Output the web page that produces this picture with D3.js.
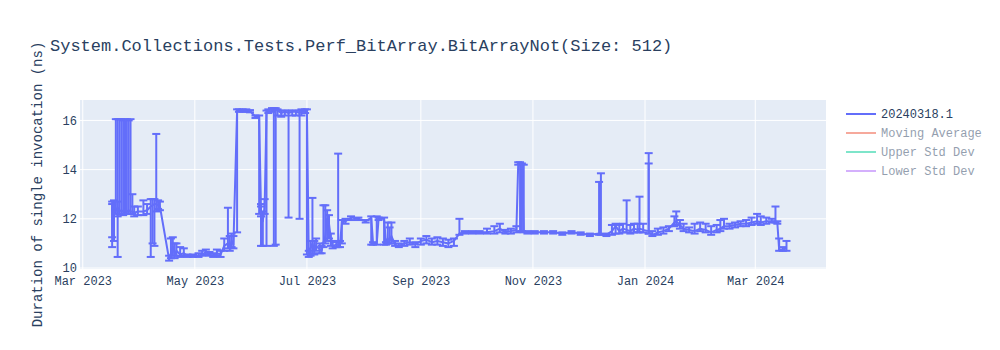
<!DOCTYPE html>
<html>
<head>
<meta charset="utf-8">
<script src="https://cdn.jsdelivr.net/npm/d3@7"></script>
<style>
  body { margin: 0; background: #fff; }
  svg text { font-family: "Courier New", "Liberation Mono", monospace; }
</style>
</head>
<body>
<div id="chart"></div>
<script>
const chartTitle = 'System.Collections.Tests.Perf_BitArray.BitArrayNot(Size: 512)';
const yAxisTitle = 'Duration of single invocation (ns)';
const legendNames = ['20240318.1', 'Moving Average', 'Upper Std Dev', 'Lower Std Dev'];
const yTickValues = [10, 12, 14, 16];

const dates = [
    '2023-03-17', '2023-03-17', '2023-03-18', '2023-03-19', '2023-03-20', '2023-03-20', '2023-03-21', '2023-03-22',
    '2023-03-23', '2023-03-24', '2023-03-25', '2023-03-26', '2023-03-27', '2023-03-28', '2023-03-29', '2023-03-31',
    '2023-04-03', '2023-04-05', '2023-04-07', '2023-04-08', '2023-04-09', '2023-04-10', '2023-04-11', '2023-04-12',
    '2023-04-17', '2023-04-18', '2023-04-19', '2023-04-20', '2023-04-21', '2023-04-23', '2023-04-25', '2023-04-27',
    '2023-04-30', '2023-05-03', '2023-05-05', '2023-05-07', '2023-05-09', '2023-05-11', '2023-05-13', '2023-05-15',
    '2023-05-17', '2023-05-19', '2023-05-20', '2023-05-21', '2023-05-22', '2023-05-24', '2023-05-25', '2023-05-27',
    '2023-05-29', '2023-05-31', '2023-06-03', '2023-06-05', '2023-06-06', '2023-06-06', '2023-06-07', '2023-06-08',
    '2023-06-09', '2023-06-10', '2023-06-12', '2023-06-13', '2023-06-14', '2023-06-15', '2023-06-17', '2023-06-19',
    '2023-06-21', '2023-06-23', '2023-06-25', '2023-06-27', '2023-06-28', '2023-06-30', '2023-07-01', '2023-07-02',
    '2023-07-03', '2023-07-04', '2023-07-05', '2023-07-06', '2023-07-08', '2023-07-09', '2023-07-10', '2023-07-11',
    '2023-07-12', '2023-07-13', '2023-07-14', '2023-07-15', '2023-07-17', '2023-07-18', '2023-07-19', '2023-07-20',
    '2023-07-22', '2023-07-25', '2023-07-29', '2023-08-02', '2023-08-05', '2023-08-06', '2023-08-08', '2023-08-09',
    '2023-08-12', '2023-08-13', '2023-08-14', '2023-08-15', '2023-08-16', '2023-08-18', '2023-08-20', '2023-08-23',
    '2023-08-26', '2023-08-29', '2023-09-01', '2023-09-04', '2023-09-07', '2023-09-10', '2023-09-13', '2023-09-16',
    '2023-09-19', '2023-09-22', '2023-09-25', '2023-09-29', '2023-10-03', '2023-10-07', '2023-10-11', '2023-10-14',
    '2023-10-17', '2023-10-20', '2023-10-23', '2023-10-24', '2023-10-25', '2023-10-26', '2023-10-27', '2023-10-29',
    '2023-11-02', '2023-11-07', '2023-11-12', '2023-11-17', '2023-11-22', '2023-11-27', '2023-12-02', '2023-12-07',
    '2023-12-08', '2023-12-11', '2023-12-14', '2023-12-16', '2023-12-18', '2023-12-20', '2023-12-22', '2023-12-24',
    '2023-12-26', '2023-12-28', '2023-12-29', '2023-12-31', '2024-01-03', '2024-01-03', '2024-01-05', '2024-01-08',
    '2024-01-11', '2024-01-14', '2024-01-17', '2024-01-18', '2024-01-20', '2024-01-22', '2024-01-25', '2024-01-28',
    '2024-01-31', '2024-02-03', '2024-02-06', '2024-02-09', '2024-02-11', '2024-02-13', '2024-02-16', '2024-02-19',
    '2024-02-22', '2024-02-25', '2024-02-28', '2024-03-02', '2024-03-04', '2024-03-07', '2024-03-10', '2024-03-12',
    '2024-03-13', '2024-03-14', '2024-03-16', '2024-03-18'
];

const durations = [
    12.45, 12.35, 12.55, 12.40, 12.30, 12.45, 12.30, 12.35,
    12.30, 12.40, 12.30, 12.35, 12.30, 12.30, 12.25, 12.30,
    12.30, 12.35, 12.50, 12.55, 12.60, 12.60, 12.55, 12.50,
    10.35, 10.60, 10.90, 10.55, 10.70, 10.55, 10.60, 10.50,
    10.50, 10.50, 10.55, 10.65, 10.55, 10.50, 10.60, 10.55,
    10.90, 11.00, 10.80, 11.10, 10.95, 16.40, 16.40, 16.40,
    16.40, 16.38, 16.15, 16.15, 12.40, 12.20, 11.90, 12.50,
    16.35, 16.40, 16.45, 16.40, 16.45, 16.40, 16.30, 16.35,
    16.30, 16.35, 16.35, 16.30, 16.35, 16.40, 16.40, 10.55,
    10.80, 11.00, 10.70, 10.90, 10.75, 10.70, 11.05, 11.30,
    12.00, 11.80, 11.20, 10.90, 10.95, 10.95, 10.95, 11.85,
    11.90, 12.05, 12.00, 11.90, 12.05, 11.00, 11.00, 12.00,
    12.00, 11.00, 11.20, 11.10, 11.30, 10.95, 10.90, 11.00,
    11.05, 10.95, 11.10, 11.15, 11.05, 11.10, 11.05, 11.00,
    11.10, 11.40, 11.45, 11.45, 11.45, 11.45, 11.50, 11.60,
    11.45, 11.50, 11.55, 14.25, 14.25, 14.20, 11.50, 11.45,
    11.45, 11.45, 11.45, 11.40, 11.45, 11.40, 11.35, 11.40,
    11.40, 11.35, 11.50, 11.70, 11.50, 11.60, 11.55, 11.50,
    11.60, 11.55, 11.60, 11.55, 11.50, 11.45, 11.35, 11.45,
    11.50, 11.60, 11.85, 11.90, 11.75, 11.60, 11.55, 11.50,
    11.60, 11.55, 11.45, 11.55, 11.60, 11.70, 11.70, 11.75,
    11.80, 11.80, 11.85, 11.90, 11.85, 11.90, 11.90, 11.90,
    11.85, 10.75, 10.75, 10.80
];

// absolute ends of the error bars
const errorTop = [
    12.70, 12.60, 12.75, 16.05, 16.05, 12.70, 16.05, 16.05,
    16.00, 16.05, 16.05, 16.00, 16.05, 13.00, 12.50, 12.50,
    12.75, 12.60, 12.80, 12.80, 12.80, 15.45, 12.75, 12.70,
    10.50, 11.20, 11.25, 11.00, 11.00, 10.85, 10.80, 10.55,
    10.55, 10.60, 10.70, 10.75, 10.65, 10.60, 10.75, 10.70,
    11.20, 12.45, 11.30, 11.40, 11.30, 16.45, 16.45, 16.45,
    16.45, 16.42, 16.20, 16.20, 12.60, 12.50, 12.30, 12.80,
    16.40, 16.45, 16.50, 16.50, 16.50, 16.45, 16.40, 16.40,
    16.40, 16.40, 16.40, 16.40, 16.45, 16.45, 16.45, 10.70,
    11.10, 12.85, 11.10, 11.20, 11.00, 10.90, 12.55, 12.55,
    12.35, 12.15, 11.40, 11.10, 11.05, 14.65, 11.10, 11.95,
    12.00, 12.10, 12.05, 11.95, 12.10, 11.05, 12.10, 12.05,
    12.05, 11.05, 11.85, 11.65, 11.85, 11.10, 11.00, 11.10,
    11.20, 11.05, 11.20, 11.30, 11.20, 11.25, 11.20, 11.15,
    11.20, 12.00, 11.50, 11.50, 11.50, 11.60, 11.70, 11.80,
    11.55, 11.60, 11.70, 14.30, 14.30, 14.25, 14.20, 11.50,
    11.50, 11.50, 11.50, 11.45, 11.50, 11.45, 11.40, 13.50,
    13.85, 11.40, 11.75, 11.80, 11.75, 11.80, 12.75, 11.75,
    11.80, 11.80, 12.90, 11.80, 14.25, 14.67, 11.50, 11.60,
    11.65, 11.70, 12.10, 12.30, 11.95, 11.80, 11.65, 11.80,
    11.85, 11.80, 11.70, 11.75, 11.95, 12.00, 11.80, 11.85,
    11.90, 11.95, 12.05, 12.20, 12.10, 12.05, 12.00, 12.50,
    11.90, 11.20, 10.85, 11.10
];

const errorBottom = [
    11.25, 10.85, 11.10, 12.20, 12.10, 10.45, 12.20, 12.20,
    12.15, 12.20, 12.20, 12.20, 12.20, 12.20, 12.10, 12.15,
    12.15, 12.20, 10.45, 11.00, 10.90, 12.30, 12.40, 12.35,
    10.30, 10.40, 10.50, 10.40, 10.50, 10.45, 10.50, 10.45,
    10.45, 10.45, 10.50, 10.55, 10.50, 10.45, 10.50, 10.45,
    10.70, 10.80, 10.70, 10.85, 10.80, 11.45, 16.35, 16.35,
    16.35, 16.33, 16.10, 12.20, 12.10, 10.90, 10.90, 12.20,
    10.90, 16.30, 16.35, 10.90, 10.95, 16.20, 16.15, 16.20,
    12.05, 16.20, 16.20, 12.00, 16.20, 16.30, 10.55, 10.45,
    10.50, 10.60, 10.55, 10.70, 10.60, 10.60, 10.85, 11.00,
    11.10, 11.20, 10.90, 10.80, 10.85, 10.85, 10.85, 11.00,
    11.80, 11.95, 11.95, 11.85, 10.95, 10.95, 10.95, 11.95,
    10.95, 10.95, 11.00, 11.00, 11.00, 10.90, 10.85, 10.90,
    10.95, 10.85, 10.95, 11.00, 10.95, 10.95, 10.90, 10.85,
    10.90, 11.35, 11.40, 11.40, 11.40, 11.40, 11.40, 11.45,
    11.40, 11.40, 11.45, 14.20, 11.50, 11.50, 11.45, 11.40,
    11.40, 11.40, 11.40, 11.35, 11.40, 11.35, 11.30, 11.35,
    11.35, 11.30, 11.35, 11.40, 11.40, 11.45, 11.45, 11.40,
    11.45, 11.45, 11.45, 11.45, 11.40, 11.40, 11.30, 11.35,
    11.40, 11.50, 11.70, 11.75, 11.60, 11.50, 11.45, 11.40,
    11.50, 11.45, 11.35, 11.45, 11.50, 11.60, 11.60, 11.65,
    11.70, 11.70, 11.75, 11.80, 11.75, 11.80, 11.85, 11.85,
    11.80, 10.70, 10.70, 10.70
];

const traceColors = ['#636efa', '#EF553B', '#00cc96', '#ab63fa'];

function drawChart() {
    const width = 1000;
    const height = 350;
    const plot = { left: 80, top: 100, width: 746, height: 169 };
    const textColor = '#2a3f5f';

    const parseDate = d3.timeParse('%Y-%m-%d');
    const points = dates.map((d, i) => ({
        date: parseDate(d),
        value: durations[i],
        top: errorTop[i],
        bottom: errorBottom[i]
    }));

    const svg = d3.select('#chart').append('svg')
        .attr('width', width)
        .attr('height', height);

    const x = d3.scaleTime()
        .domain([new Date(2023, 1, 27, 12), new Date(2024, 3, 8, 12)])
        .range([0, plot.width]);

    const y = d3.scaleLinear()
        .domain([9.96, 16.83])
        .range([plot.height, 0]);

    const chart = svg.append('g')
        .attr('transform', 'translate(' + plot.left + ', ' + plot.top + ')');

    chart.append('rect')
        .attr('width', plot.width)
        .attr('height', plot.height)
        .attr('fill', '#E5ECF6');

    const xTicks = x.ticks(d3.timeMonth.every(2));

    // grid
    chart.append('g')
        .selectAll('line')
        .data(xTicks)
        .enter()
        .append('line')
        .attr('x1', d => x(d))
        .attr('x2', d => x(d))
        .attr('y1', 0)
        .attr('y2', plot.height)
        .attr('stroke', '#fff')
        .attr('stroke-width', 1);

    chart.append('g')
        .selectAll('line')
        .data(yTickValues)
        .enter()
        .append('line')
        .attr('x1', 0)
        .attr('x2', plot.width)
        .attr('y1', d => y(d))
        .attr('y2', d => y(d))
        .attr('stroke', '#fff')
        .attr('stroke-width', 1);

    // axes
    const xAxis = d3.axisBottom(x)
        .tickValues(xTicks)
        .tickFormat(d3.timeFormat('%b %Y'))
        .tickSize(0)
        .tickPadding(7);
    const xAxisG = chart.append('g')
        .attr('transform', 'translate(0, ' + plot.height + ')')
        .call(xAxis);

    const yAxis = d3.axisLeft(y)
        .tickValues(yTickValues)
        .tickFormat(d3.format('d'))
        .tickSize(0)
        .tickPadding(3);
    const yAxisG = chart.append('g')
        .call(yAxis);

    [xAxisG, yAxisG].forEach(g => {
        g.select('.domain').remove();
        g.selectAll('text')
            .attr('fill', textColor)
            .style('font-size', '12px')
            .style('font-family', '"Courier New", "Liberation Mono", monospace');
    });

    svg.append('clipPath').attr('id', 'plot-clip')
        .append('rect')
        .attr('width', plot.width)
        .attr('height', plot.height);

    const marks = chart.append('g').attr('clip-path', 'url(#plot-clip)');

    // error bars
    const bars = marks.append('g')
        .attr('stroke', traceColors[0])
        .attr('stroke-width', 2)
        .selectAll('g')
        .data(points)
        .enter()
        .append('g');

    bars.append('line')
        .attr('x1', p => x(p.date))
        .attr('x2', p => x(p.date))
        .attr('y1', p => y(p.top))
        .attr('y2', p => y(p.bottom));

    bars.append('line')
        .attr('x1', p => x(p.date) - 4)
        .attr('x2', p => x(p.date) + 4)
        .attr('y1', p => y(p.top))
        .attr('y2', p => y(p.top));

    bars.append('line')
        .attr('x1', p => x(p.date) - 4)
        .attr('x2', p => x(p.date) + 4)
        .attr('y1', p => y(p.bottom))
        .attr('y2', p => y(p.bottom));

    const line = d3.line()
        .x(p => x(p.date))
        .y(p => y(p.value));

    marks.append('path')
        .datum(points)
        .attr('d', line)
        .attr('fill', 'none')
        .attr('stroke', traceColors[0])
        .attr('stroke-width', 2)
        .attr('stroke-linejoin', 'round');

    // title
    svg.append('text')
        .attr('x', 50)
        .attr('y', 51)
        .attr('fill', textColor)
        .style('font-size', '17px')
        .text(chartTitle);

    svg.append('text')
        .attr('transform', 'translate(42, ' + (plot.top + plot.height / 2) + ') rotate(-90)')
        .attr('text-anchor', 'middle')
        .attr('fill', textColor)
        .style('font-size', '14px')
        .text(yAxisTitle);

    // legend, only the first trace is shown
    const legend = svg.append('g')
        .selectAll('g')
        .data(legendNames)
        .enter()
        .append('g')
        .attr('transform', (d, i) => 'translate(846, ' + (114 + i * 19) + ')')
        .attr('opacity', (d, i) => i === 0 ? 1 : 0.5);

    legend.append('line')
        .attr('x1', 0)
        .attr('x2', 30)
        .attr('stroke', (d, i) => traceColors[i])
        .attr('stroke-width', 2);

    legend.append('text')
        .attr('x', 35)
        .attr('dy', '0.35em')
        .attr('fill', textColor)
        .style('font-size', '12px')
        .text(d => d);
}

drawChart();
</script>
</body>
</html>
